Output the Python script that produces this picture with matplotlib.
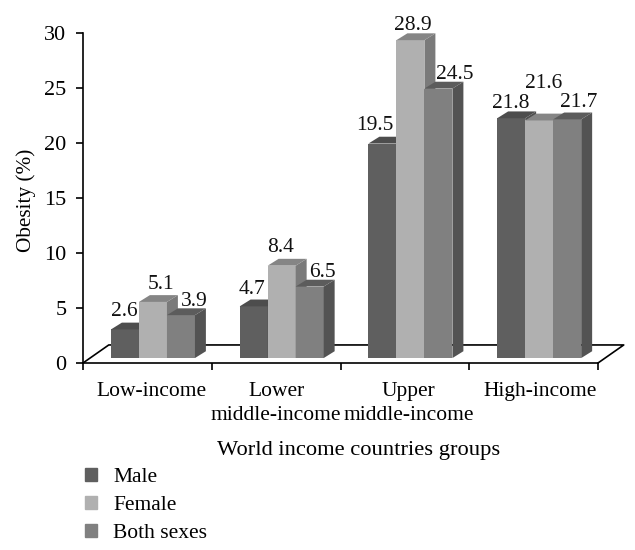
import matplotlib.pyplot as plt
import numpy as np
from matplotlib.patches import Patch, Polygon

plt.rcParams["font.family"] = ["Liberation Serif", "DejaVu Serif"]

groups = ["Low-income", "Lower\nmiddle-income", "Upper\nmiddle-income", "High-income"]
series = ["Male", "Female", "Both sexes"]
male = [2.6, 4.7, 19.5, 21.8]
female = [5.1, 8.4, 28.9, 21.6]
both = [3.9, 6.5, 24.5, 21.7]
yticks = [0, 5, 10, 15, 20, 25, 30]

# Farben: Front, Seite, Deckel
front = ["#5f5f5f", "#b0b0b0", "#808080"]
side = ["#505050", "#7a7a7a", "#535353"]
top = ["#4d4d4d", "#858585", "#5c5c5c"]

# Versatz der Werte-Beschriftung in Pixeln (von Hand gesetzt wie im Original)
label_dx = [[-1, -2, -8, 0], [8, -1, 2, 4], [13, 13, 16, 11]]
label_dy = [[18, 17, 18, 15], [17, 18, 15, 37], [14, 14, 14, 17]]

W, H = 635, 550
fig = plt.figure(figsize=(W / 100, H / 100), dpi=100)
ax = fig.add_axes([83 / W, 1 - 363 / H, (598 - 83) / W, (363 - 33) / H])
ax.set_xlim(0, 4)
ax.set_ylim(0, 30)

base = 0.45
bar_w = 0.2175
start = 0.217
dx, dy = 0.085, 0.62

# Boden
fdx, fdy = 0.2, 1.64
ax.plot([0, fdx, 4 + fdx, 4], [0, fdy, fdy, 0], color="black", lw=1.2,
        clip_on=False, zorder=1)

for j, values in enumerate([male, female, both]):
    x = np.arange(4) + start + j * bar_w
    ax.bar(x, values, bar_w, bottom=base, align="edge", color=front[j], zorder=3 + j)
    for i, v in enumerate(values):
        x0, x1 = x[i], x[i] + bar_w
        h = base + v
        ax.add_patch(Polygon([(x1, base), (x1 + dx, base + dy), (x1 + dx, h + dy), (x1, h)],
                             color=side[j], lw=0, zorder=3 + j, clip_on=False))
        ax.add_patch(Polygon([(x0, h), (x0 + dx, h + dy), (x1 + dx, h + dy), (x1, h)],
                             color=top[j], lw=0, zorder=3 + j, clip_on=False))
        ax.annotate(f"{v}", (x0 + bar_w / 2, h),
                    xytext=(label_dx[j][i], label_dy[j][i]), textcoords="offset pixels",
                    ha="center", va="center", fontsize=15.5, color="#111111",
                    zorder=10, annotation_clip=False)

for s in ["top", "right"]:
    ax.spines[s].set_visible(False)
for s in ["left", "bottom"]:
    ax.spines[s].set_linewidth(1.2)

ax.set_yticks(yticks)
ax.set_xticks(np.arange(5))
ax.set_xticklabels([])
ax.set_xticks([0.53, 1.5, 2.53, 3.55], groups, minor=True)
ax.tick_params(axis="both", which="major", width=1.2, length=5, labelsize=16, pad=7)
ax.tick_params(axis="x", which="minor", length=0, labelsize=15.5, pad=14)
for t in ax.get_xticklabels(minor=True):
    t.set_linespacing(1.3)

fig.text(359 / W, 1 - 450 / H, "World income countries groups", ha="center", va="center", fontsize=16.2)
fig.text(26 / W, 1 - 200 / H, "Obesity (%)", rotation=90, ha="center", va="center", fontsize=15.3)

handles = [Patch(color=c, label=n) for c, n in zip(front, series)]
fig.legend(handles=handles, loc="upper left", bbox_to_anchor=(85 / W, 1 - 468 / H),
           frameon=False, fontsize=15.5, handlelength=0.55, handleheight=0.55,
           handletextpad=0.75, labelspacing=0.41, borderpad=0, borderaxespad=0)

fig.savefig("out.png", dpi=100)
